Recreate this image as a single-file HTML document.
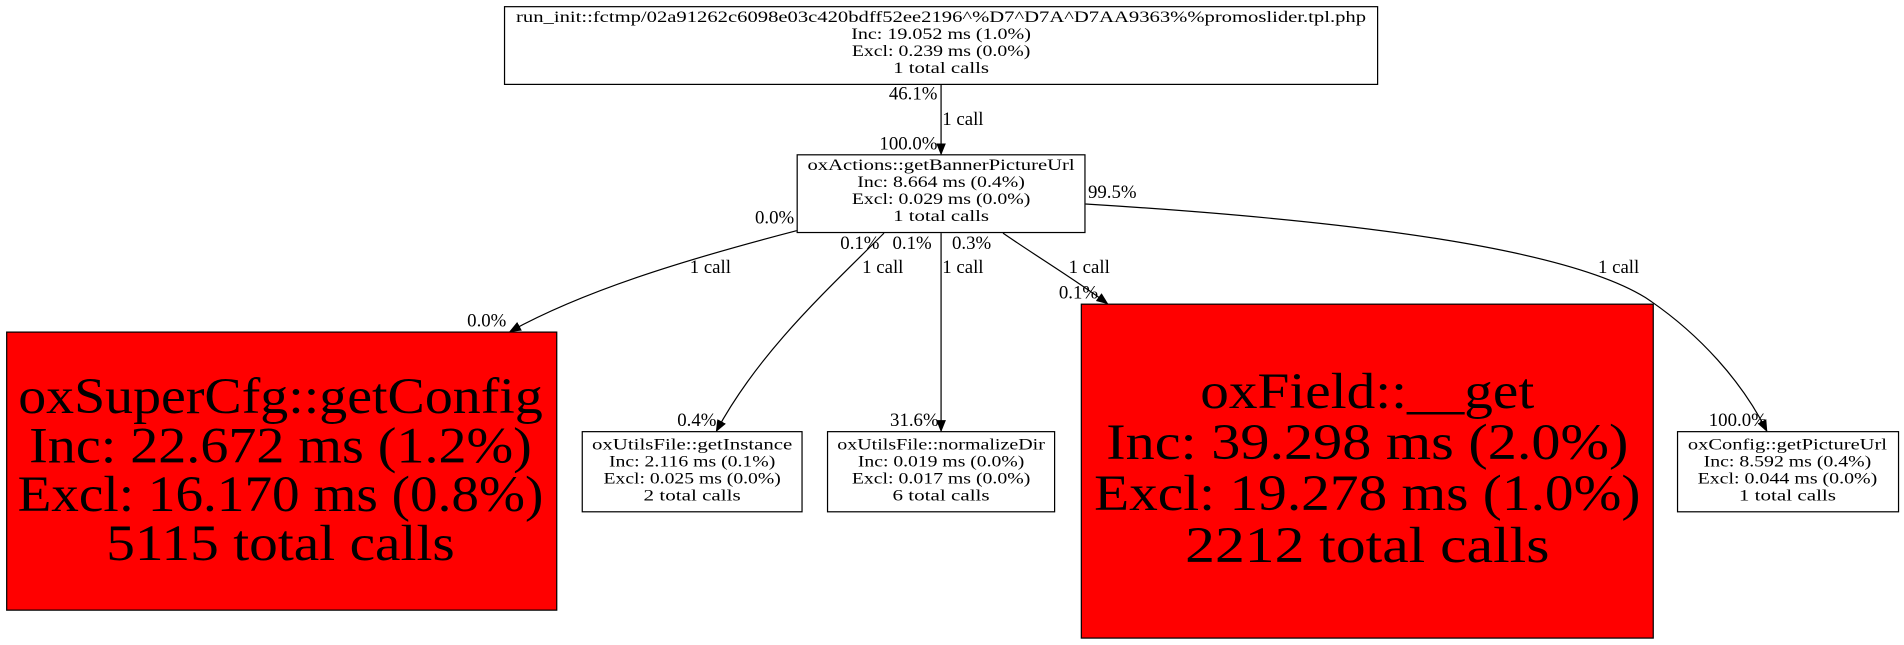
<!DOCTYPE html>
<html><head><meta charset="utf-8"><style>html,body{margin:0;padding:0;background:#fff}svg{display:block}</style></head>
<body>
<svg width="1904" height="645" viewBox="0 0 1568 531.2" preserveAspectRatio="none" xmlns="http://www.w3.org/2000/svg" font-family="Liberation Serif, serif">
<defs><marker id="a" markerWidth="10" markerHeight="8" refX="9" refY="4" orient="auto" markerUnits="userSpaceOnUse"><path d="M0,0 L10,4 L0,8 z" fill="#000"/></marker></defs>
<g fill="none" stroke="#000" stroke-width="1">
<rect x="415.5" y="5.5" width="719" height="64" fill="#fff"/>
<rect x="656.5" y="127.5" width="237" height="64" fill="#fff"/>
<rect x="5.5" y="273.5" width="453" height="229" fill="#f00"/>
<rect x="479.5" y="355.5" width="181" height="66" fill="#fff"/>
<rect x="681.5" y="355.5" width="187" height="66" fill="#fff"/>
<rect x="890.5" y="250.5" width="471" height="275" fill="#f00"/>
<rect x="1381.5" y="355.5" width="182" height="66" fill="#fff"/>
<path d="M775,70 L775,127" marker-end="url(#a)"/>
<path d="M656,190 C560,215 480,240 420,273" marker-end="url(#a)"/>
<path d="M728,192 C680,240 625,290 590,355" marker-end="url(#a)"/>
<path d="M775,192 L775,355" marker-end="url(#a)"/>
<path d="M826,192 C855,212 885,230 912,250" marker-end="url(#a)"/>
<path d="M894,168 C1120,182 1290,205 1355,245 C1400,275 1435,315 1455,355" marker-end="url(#a)"/>
</g>
<g font-size="13" text-anchor="middle">
<text x="775" y="18" textLength="700" lengthAdjust="spacingAndGlyphs">run_init::fctmp/02a91262c6098e03c420bdff52ee2196^%D7^D7A^D7AA9363%%promoslider.tpl.php</text>
<text x="775" y="32" textLength="148" lengthAdjust="spacingAndGlyphs">Inc: 19.052 ms (1.0%)</text>
<text x="775" y="46" textLength="147" lengthAdjust="spacingAndGlyphs">Excl: 0.239 ms (0.0%)</text>
<text x="775" y="60" textLength="79" lengthAdjust="spacingAndGlyphs">1 total calls</text>
<text x="775" y="140" textLength="220" lengthAdjust="spacingAndGlyphs">oxActions::getBannerPictureUrl</text>
<text x="775" y="154" textLength="138" lengthAdjust="spacingAndGlyphs">Inc: 8.664 ms (0.4%)</text>
<text x="775" y="168" textLength="147" lengthAdjust="spacingAndGlyphs">Excl: 0.029 ms (0.0%)</text>
<text x="775" y="182" textLength="79" lengthAdjust="spacingAndGlyphs">1 total calls</text>
<text x="570" y="370" textLength="165" lengthAdjust="spacingAndGlyphs">oxUtilsFile::getInstance</text>
<text x="570" y="384" textLength="137" lengthAdjust="spacingAndGlyphs">Inc: 2.116 ms (0.1%)</text>
<text x="570" y="398" textLength="146" lengthAdjust="spacingAndGlyphs">Excl: 0.025 ms (0.0%)</text>
<text x="570" y="412" textLength="80" lengthAdjust="spacingAndGlyphs">2 total calls</text>
<text x="775" y="370" textLength="171" lengthAdjust="spacingAndGlyphs">oxUtilsFile::normalizeDir</text>
<text x="775" y="384" textLength="137" lengthAdjust="spacingAndGlyphs">Inc: 0.019 ms (0.0%)</text>
<text x="775" y="398" textLength="147" lengthAdjust="spacingAndGlyphs">Excl: 0.017 ms (0.0%)</text>
<text x="775" y="412" textLength="80" lengthAdjust="spacingAndGlyphs">6 total calls</text>
<text x="1472" y="370" textLength="164" lengthAdjust="spacingAndGlyphs">oxConfig::getPictureUrl</text>
<text x="1472" y="384" textLength="138" lengthAdjust="spacingAndGlyphs">Inc: 8.592 ms (0.4%)</text>
<text x="1472" y="398" textLength="148" lengthAdjust="spacingAndGlyphs">Excl: 0.044 ms (0.0%)</text>
<text x="1472" y="412" textLength="80" lengthAdjust="spacingAndGlyphs">1 total calls</text>
</g>
<g font-size="42" text-anchor="middle">
<text x="231" y="340" textLength="432" lengthAdjust="spacingAndGlyphs">oxSuperCfg::getConfig</text>
<text x="231" y="381" textLength="414" lengthAdjust="spacingAndGlyphs">Inc: 22.672 ms (1.2%)</text>
<text x="231" y="421" textLength="433" lengthAdjust="spacingAndGlyphs">Excl: 16.170 ms (0.8%)</text>
<text x="231" y="461" textLength="287" lengthAdjust="spacingAndGlyphs">5115 total calls</text>
<text x="1126" y="336" textLength="275" lengthAdjust="spacingAndGlyphs">oxField::__get</text>
<text x="1126" y="378" textLength="430" lengthAdjust="spacingAndGlyphs">Inc: 39.298 ms (2.0%)</text>
<text x="1126" y="420" textLength="450" lengthAdjust="spacingAndGlyphs">Excl: 19.278 ms (1.0%)</text>
<text x="1126" y="463" textLength="300" lengthAdjust="spacingAndGlyphs">2212 total calls</text>
</g>
<g font-size="15.5">
<text x="772" y="82" text-anchor="end">46.1%</text>
<text x="776" y="103">1 call</text>
<text x="772" y="123" text-anchor="end">100.0%</text>
<text x="654" y="184" text-anchor="end">0.0%</text>
<text x="568" y="225">1 call</text>
<text x="417" y="269" text-anchor="end">0.0%</text>
<text x="692" y="205">0.1%</text>
<text x="710" y="225">1 call</text>
<text x="590" y="351" text-anchor="end">0.4%</text>
<text x="735" y="205">0.1%</text>
<text x="776" y="225">1 call</text>
<text x="773" y="351" text-anchor="end">31.6%</text>
<text x="784" y="205">0.3%</text>
<text x="880" y="225">1 call</text>
<text x="872" y="246">0.1%</text>
<text x="896" y="163">99.5%</text>
<text x="1316" y="225">1 call</text>
<text x="1455" y="351" text-anchor="end">100.0%</text>
</g>
</svg>
</body></html>
